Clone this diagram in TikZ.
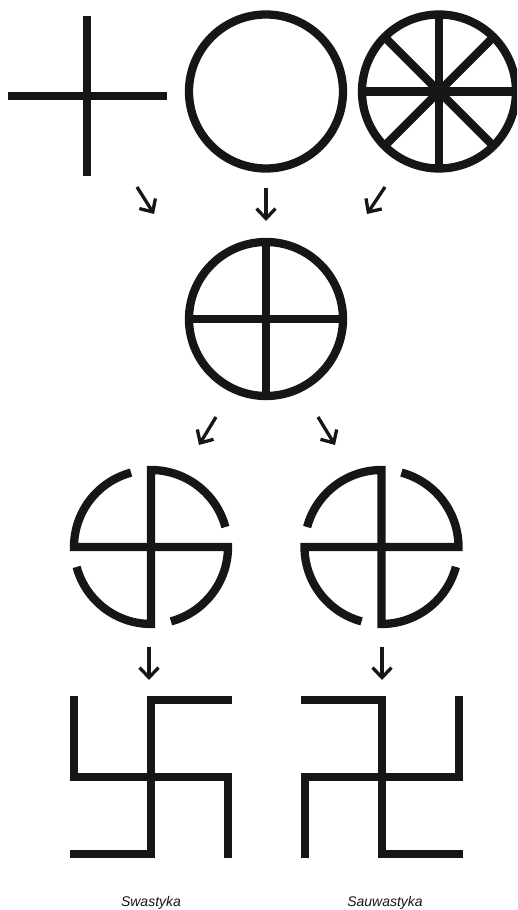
\documentclass[tikz,border=0pt]{standalone}
\usepackage{fontspec}
\setmainfont{Liberation Sans}
\usetikzlibrary{arrows.meta,calc}
\definecolor{ink}{HTML}{161616}
\tikzset{
  sym/.style={draw=ink, line width=8.3pt, line join=miter},
  arr/.style={draw=ink, line width=3.3pt, -{Straight Barb[length=10pt,width=19pt]}},
  lbl/.style={font=\itshape\fontsize{14}{16}\selectfont, text=ink, inner sep=0pt, anchor=base}
}
\begin{document}
\begin{tikzpicture}[x=1pt,y=1pt]
\useasboundingbox (0,0) rectangle (517,910);
\clip (0,0) rectangle (517,910);
% centres
\coordinate (cross) at (87,814);
\coordinate (ring) at (266,818.5);
\coordinate (wheel) at (439,818.5);
\coordinate (sun) at (266,591);
\coordinate (sunL) at (151,363);
\coordinate (sunR) at (381.5,363);
\coordinate (swL) at (151,133);
\coordinate (swR) at (382,133);
% cross
\draw[sym] (8,814) -- (167,814);
\draw[sym] (87,894) -- (87,734);
% ring
\draw[sym] (ring) circle (77);
% wheel
\draw[sym] (wheel) circle (77);
\foreach \a in {0,45,90,135} {
  \draw[sym] ($(wheel)+(\a:77)$) -- ($(wheel)+(\a+180:77)$);
}
% sun cross
\draw[sym] (sun) circle (77);
\draw[sym] ($(sun)+(-77,0)$) -- ($(sun)+(77,0)$);
\draw[sym] ($(sun)+(0,77)$) -- ($(sun)+(0,-77)$);
% sun swastika left
\foreach \a in {90,0,270,180} {
  \draw[sym] (sunL) -- ++(\a:77) arc[start angle=\a, end angle=\a-75, radius=77];
}
% sun swastika right
\foreach \a in {90,0,270,180} {
  \draw[sym] (sunR) -- ++(\a:77) arc[start angle=\a, end angle=\a+75, radius=77];
}
% swastika left
\draw[sym] ($(swL)+(81,77)$) -- ($(swL)+(0,77)$) -- ($(swL)+(0,-77)$) -- ($(swL)+(-81,-77)$);
\draw[sym] ($(swL)+(-77,81)$) -- ($(swL)+(-77,0)$) -- ($(swL)+(77,0)$) -- ($(swL)+(77,-81)$);
% swastika right
\draw[sym] ($(swR)+(-81,77)$) -- ($(swR)+(0,77)$) -- ($(swR)+(0,-77)$) -- ($(swR)+(81,-77)$);
\draw[sym] ($(swR)+(77,81)$) -- ($(swR)+(77,0)$) -- ($(swR)+(-77,0)$) -- ($(swR)+(-77,-81)$);
% arrow endpoints
\coordinate (a1s) at (137,723); \coordinate (a1e) at (154,696);
\coordinate (a2s) at (266,722); \coordinate (a2e) at (266,689);
\coordinate (a3s) at (385,723); \coordinate (a3e) at (367,696);
\coordinate (a4s) at (216,493); \coordinate (a4e) at (199,465);
\coordinate (a5s) at (318,493); \coordinate (a5e) at (335,465);
\coordinate (a6s) at (149,263); \coordinate (a6e) at (149,230);
\coordinate (a7s) at (382,263); \coordinate (a7e) at (382,230);
\draw[arr] (a1s) -- (a1e);
\draw[arr] (a2s) -- (a2e);
\draw[arr] (a3s) -- (a3e);
\draw[arr] (a4s) -- (a4e);
\draw[arr] (a5s) -- (a5e);
\draw[arr] (a6s) -- (a6e);
\draw[arr] (a7s) -- (a7e);
% labels
\node[lbl] (l1) at (151,3.5) {Swastyka};
\node[lbl] (l2) at (385,3.5) {Sauwastyka};
\end{tikzpicture}
\end{document}
